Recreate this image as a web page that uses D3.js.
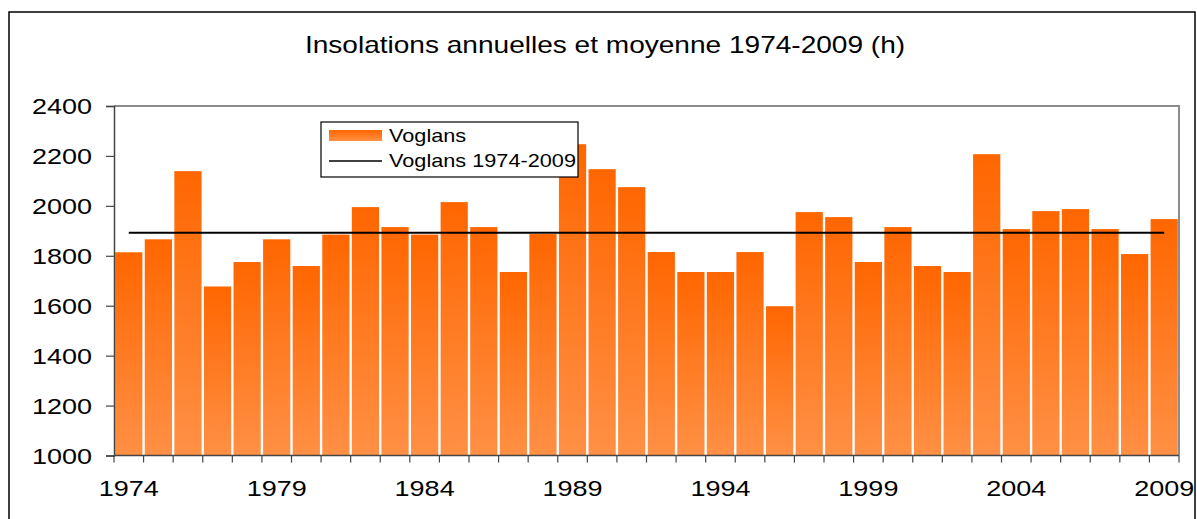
<!DOCTYPE html>
<html>
<head>
<meta charset="utf-8">
<script src="https://cdn.jsdelivr.net/npm/d3@7"></script>
<style>
  html, body { margin: 0; padding: 0; background: #fff; }
  svg { display: block; font-family: "Liberation Sans", Arial, sans-serif; }
</style>
</head>
<body>
<svg id="chart" width="1197" height="519"></svg>
<script>
// ---- data ----
const years = [1974,1975,1976,1977,1978,1979,1980,1981,1982,1983,1984,1985,1986,1987,1988,1989,1990,1991,
               1992,1993,1994,1995,1996,1997,1998,1999,2000,2001,2002,2003,2004,2005,2006,2007,2008,2009];
const insolation = [1814,1866,2139,1677,1775,1866,1759,1885,1995,1915,1885,2015,1915,1735,1887,2247,2147,2075,
                    1815,1735,1735,1815,1598,1975,1955,1775,1915,1759,1735,2207,1907,1979,1987,1907,1807,1947];
const meanValue = 1892; // Voglans 1974-2009
const yTicks = [1000,1200,1400,1600,1800,2000,2200,2400];
const xLabelYears = [1974,1979,1984,1989,1994,1999,2004,2009];
const title = "Insolations annuelles et moyenne 1974-2009 (h)";
const legendLabels = ["Voglans", "Voglans 1974-2009"];

// ---- layout ----
const svg = d3.select("#chart");
const plot = {left: 114, right: 1179, top: 106, bottom: 455.5};
const SX = 1.24; // horizontal text stretch of the original

const xb = d3.scaleBand().domain(years).range([plot.left, plot.right]);
const y = d3.scaleLinear().domain([1000, 2400]).range([plot.bottom, plot.top]);

const defs = svg.append("defs");
const grad = defs.append("linearGradient").attr("id", "barGrad")
  .attr("x1", 0).attr("y1", 0).attr("x2", 0).attr("y2", 1);
grad.append("stop").attr("offset", "0%").attr("stop-color", "#FF6600");
grad.append("stop").attr("offset", "100%").attr("stop-color", "#FF9045");

// outer frame
svg.append("rect").attr("x", 9).attr("y", 12).attr("width", 1186).attr("height", 530)
  .attr("fill", "#fff").attr("stroke", "#000").attr("stroke-width", 1.5);

function stretchedText(g, tx, ty, txt, size, anchor, sx) {
  return g.append("text")
    .attr("transform", `translate(${tx},${ty}) scale(${sx || SX},1)`)
    .attr("text-anchor", anchor)
    .attr("font-size", size)
    .attr("fill", "#000")
    .text(txt);
}

// title
stretchedText(svg, 605, 53, title, 23, "middle", 1.22);

// plot border (top/right gray)
svg.append("path")
  .attr("d", `M${plot.left},${plot.top}H${plot.right}V${plot.bottom}`)
  .attr("fill", "none").attr("stroke", "#8c8c8c").attr("stroke-width", 2);

// bars
svg.append("g").selectAll("rect").data(years).join("rect")
  .attr("x", (d) => xb(d) + (xb.bandwidth() - xb.bandwidth() * 0.92) / 2)
  .attr("width", xb.bandwidth() * 0.92)
  .attr("y", (d, i) => y(insolation[i]))
  .attr("height", (d, i) => y(1000) - y(insolation[i]))
  .attr("fill", "url(#barGrad)");

// mean line
const line = d3.line().x((d) => xb(d) + xb.bandwidth() / 2).y(() => y(meanValue));
svg.append("path").datum(years).attr("d", line)
  .attr("fill", "none").attr("stroke", "#000").attr("stroke-width", 2);

// y axis
const yAxis = svg.append("g").attr("transform", `translate(${plot.left},0)`)
  .call(d3.axisLeft(y).tickValues(yTicks).tickSize(8).tickFormat(""));
yAxis.select(".domain").attr("stroke", "#444").attr("stroke-width", 1.5);
yAxis.selectAll(".tick line").attr("stroke", "#444").attr("stroke-width", 1.2);
yTicks.forEach((t) => stretchedText(svg, 92, y(t) + 8, String(t), 22.5, "end", 1.2));

// x axis: ticks at band boundaries
const boundaries = years.map((d) => xb(d)).concat([plot.right]);
const xAxisG = svg.append("g");
xAxisG.append("line").attr("x1", plot.left).attr("x2", plot.right)
  .attr("y1", plot.bottom).attr("y2", plot.bottom).attr("stroke", "#444").attr("stroke-width", 1.5);
xAxisG.selectAll("line.tk").data(boundaries).join("line").attr("class", "tk")
  .attr("x1", (d) => d).attr("x2", (d) => d)
  .attr("y1", plot.bottom).attr("y2", plot.bottom + 7)
  .attr("stroke", "#444").attr("stroke-width", 1.2);
xLabelYears.forEach((yr) => stretchedText(svg, xb(yr) + xb.bandwidth() / 2, 496, String(yr), 22.5, "middle", 1.2));

// legend
const lg = svg.append("g");
lg.append("rect").attr("x", 321).attr("y", 122).attr("width", 257).attr("height", 55)
  .attr("fill", "#fff").attr("stroke", "#000").attr("stroke-width", 1.2);
lg.append("rect").attr("x", 329).attr("y", 130).attr("width", 53).attr("height", 11).attr("fill", "url(#barGrad)");
lg.append("line").attr("x1", 329).attr("x2", 382).attr("y1", 161).attr("y2", 161)
  .attr("stroke", "#000").attr("stroke-width", 1.5);
stretchedText(lg, 389, 142, legendLabels[0], 17.5, "start");
stretchedText(lg, 389, 167, legendLabels[1], 17.5, "start");
</script>
</body>
</html>
